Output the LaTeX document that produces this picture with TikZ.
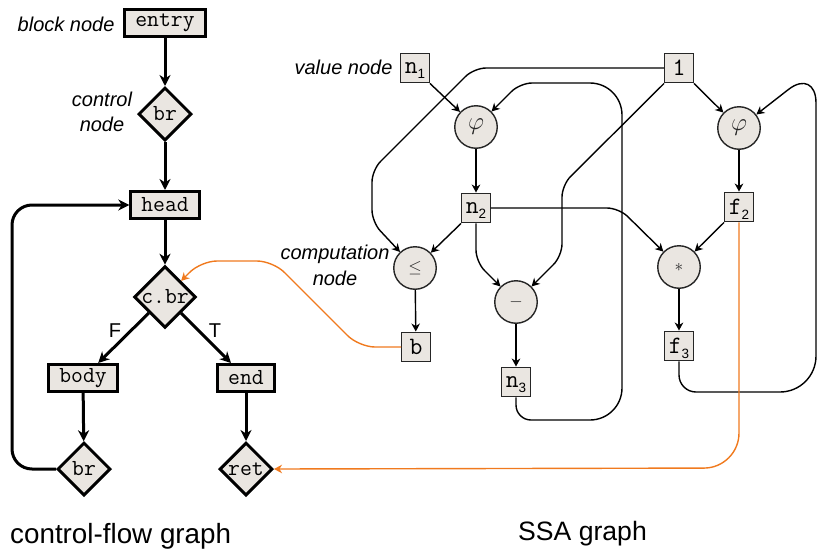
\documentclass[tikz,border=0pt]{standalone}
\usepackage{fontspec}
\setsansfont{Liberation Sans}
\usetikzlibrary{shapes.geometric,arrows.meta}

\definecolor{nodefill}{RGB}{234,230,225}
\definecolor{linkorange}{RGB}{240,122,30}

% subscript index set in a small sans face
\newcommand\subidx[1]{\raisebox{-5pt}{\fontsize{13.5}{13.5}\selectfont\sffamily #1}}

\tikzset{
  cfgline/.style={line width=3pt, -{Stealth[length=11pt,width=11pt,inset=3.5pt]}},
  block/.style={draw, line width=3pt, fill=nodefill, rectangle, inner xsep=10.5pt,
    minimum height=27pt, font=\fontsize{23}{23}\selectfont\ttfamily},
  ctrl/.style={draw, line width=3pt, fill=nodefill, diamond, aspect=1, inner sep=0pt,
    minimum width=53pt, minimum height=53pt, font=\fontsize{23}{23}\selectfont\ttfamily},
  value/.style={draw=black!85, line width=1.4pt, fill=nodefill, rectangle,
    minimum width=28.5pt, minimum height=29.5pt, inner sep=0.5pt, text depth=0pt,
    font=\fontsize{25}{25}\selectfont\ttfamily},
  comp/.style={draw=black!85, line width=1.4pt, fill=nodefill, circle,
    minimum size=42.5pt, inner sep=0pt, text=black!85, font=\fontsize{19}{19}\selectfont},
  ssa/.style={line width=1.4pt, -{Stealth[length=8pt,width=8.5pt,inset=2.5pt]}},
  link/.style={ssa, draw=linkorange},
  note/.style={font=\fontsize{20}{25}\selectfont\sffamily\itshape, align=center},
  caption/.style={anchor=base west, inner sep=0pt},
}

\begin{document}
\begin{tikzpicture}[x=1pt,y=-1pt]
\useasboundingbox (0,0) rectangle (817,549);

% ---------- control-flow graph ----------
\node[block] (entry) at (165,23) {entry};
\node[ctrl]  (br1)   at (165,114) {br};
\node[block] (head)  at (165,205) {head};
\node[ctrl]  (cbr)   at (165,297) {c.br};
\node[block] (body)  at (83,378) {body};
\node[block] (cend)  at (246,378) {end};
\node[ctrl]  (br2)   at (84,469) {br};
\node[ctrl]  (ret)   at (246,469) {ret};

\draw[cfgline] (entry) -- (br1);
\draw[cfgline] (br1) -- (head);
\draw[cfgline] (head) -- (cbr);
\draw[cfgline] (cbr) -- (body);
\draw[cfgline] (cbr) -- (cend);
\draw[cfgline] (body) -- (br2);
\draw[cfgline] (cend) -- (ret);
\draw[cfgline, rounded corners=20pt] (br2.west) -- (12,469) -- (12,205) -- (head.west);

\node[note, anchor=base east] (lblock) at (118,31) {block node};
\node[note] (lctrl) at (102,112) {control\\node};
\node[note, anchor=base] (lf) at (115,337) {\upshape F};
\node[note, anchor=base] (lt) at (215,337) {\upshape T};

% ---------- SSA graph ----------
\node[value] (n1)  at (415,68)  {n\subidx{1}};
\node[value] (one) at (679,68)  {1};
\node[comp]  (phi1) at (476,127) {\fontsize{24}{24}\selectfont$\varphi$};
\node[comp]  (phi2) at (739,128) {\fontsize{24}{24}\selectfont$\varphi$};
\node[value] (n2)  at (476,208) {n\subidx{2}};
\node[value] (f2)  at (739,207) {f\subidx{2}};
\node[comp]  (le)  at (415,268) {$\le$};
\node[comp]  (minus) at (516,302) {$-$};
\node[comp]  (star) at (679,267) {$*$};
\node[value] (b)   at (416,347) {b};
\node[value] (n3)  at (516,382) {n\subidx{3}};
\node[value] (f3)  at (679,346) {f\subidx{3}};

\draw[ssa] (n1.south east) -- (phi1);
\draw[ssa] (one.south east) -- (phi2);
\draw[ssa] (phi1) -- (n2);
\draw[ssa] (phi2) -- (f2);
\draw[ssa] (n2.south west) -- (le);
\draw[ssa] (f2.south west) -- (star);
\draw[ssa] (le) -- (b);
\draw[ssa] (minus) -- (n3);
\draw[ssa] (star) -- (f3);
\draw[ssa, rounded corners=12pt] (one.west) -- (474,68) -- (372,170) -- (372,222) -- (le);
\draw[ssa, rounded corners=12pt] (one.south west) -- (562,185) -- (562,256) -- (minus);
\draw[ssa, rounded corners=12pt] (n2.south) -- (476,262) -- (minus);
\draw[ssa, rounded corners=12pt] (n2.east) -- (619,208) -- (star);
% loop edges back into the phi nodes (corner radius set before each arriving segment)
\draw[ssa] (n3.south) [rounded corners=15pt] -- (516,420) [rounded corners=32pt] -- (622,420)
  -- (622,83) [rounded corners=12pt] -- (520,83) -- (phi1);
\draw[ssa] (f3.south) [rounded corners=17pt] -- (679,392) [rounded corners=36pt] -- (816,392)
  [rounded corners=35pt] -- (816,68) -- (phi2);

% data flowing into the control-flow graph
\draw[link, rounded corners=16pt] (b.west) -- (359,347) -- (273,261) -- (201,261) -- (cbr);
\draw[link, rounded corners=35pt] (f2.south) -- (739,468) -- (ret.east);

\node[note, anchor=base east] (lvalue) at (396,74) {value node};
\node[note, font=\fontsize{20}{26}\selectfont\sffamily\itshape] (lcomp) at (335,265) {computation\\node};

% ---------- captions ----------
\node[caption, font=\fontsize{27.8}{30}\selectfont\sffamily] (capcfg) at (10,543) {control-flow graph};
\node[caption, font=\fontsize{26.6}{30}\selectfont\sffamily] (capssa) at (518,540) {SSA graph};
\end{tikzpicture}
\end{document}
